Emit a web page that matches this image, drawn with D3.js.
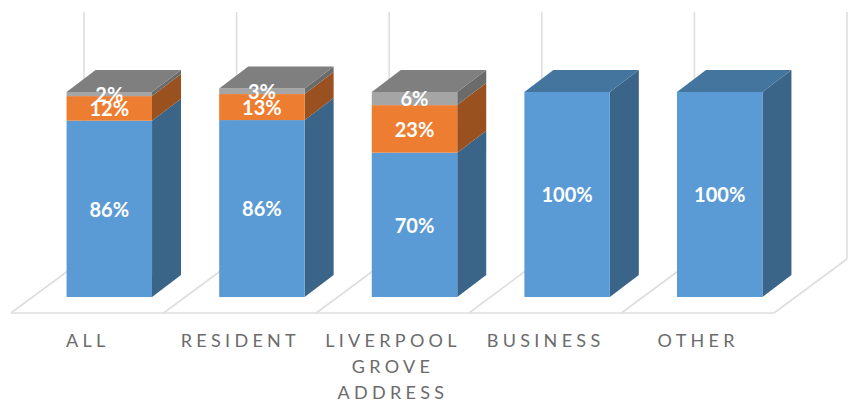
<!DOCTYPE html>
<html><head><meta charset="utf-8">
<script src="https://cdn.jsdelivr.net/npm/d3@7/dist/d3.min.js"></script>
<style>html,body{margin:0;padding:0;background:#fff}svg{display:block}</style>
</head><body><svg id="c" width="853" height="403"></svg>
<script>
const categories = ["ALL","RESIDENT","LIVERPOOL GROVE ADDRESS","BUSINESS","OTHER"];
const labelLines = [["ALL"],["RESIDENT"],["LIVERPOOL","GROVE","ADDRESS"],["BUSINESS"],["OTHER"]];
const blueValues = [86,86.3,70.4,100,100];
const orangeValues = [12,12.7,23.2,0,0];
const grayValues = [2,2.7,6.4,0,0];
const frontColors = ["#5B9BD5","#ED7D31","#A5A5A5"];
const sideColors = ["#3A6488","#98511F","#6B6B6B"];
const topColors = ["#44759F","#B25E25","#7F7F7F"];

const svg = d3.select("#c");
const x = d3.scaleBand().domain(categories).range([33,796]).paddingInner(0.44).paddingOuter(0.22);
const y = d3.scaleLinear().domain([0,100]).range([297,92]);
const step = x.step(), bw = x.bandwidth();
const dx = 29, dy = 22;          // bar depth
const floorX = 11, floorY = 313, fdx = 73, fdy = 54, gridTop = 12;
const grid = "#DEDEDE";

const table = categories.map((c,i)=>{
  const vals=[blueValues[i],orangeValues[i],grayValues[i]];
  let acc=0;
  return {c,i,segs:vals.map((v,k)=>{const s={k,v,y0:acc,y1:acc+v};acc+=v;return s;}).filter(s=>s.v>0)};
});
const idx = d3.range(categories.length+1);

// walls / floor
const g = svg.append("g").attr("fill","none").attr("stroke",grid).attr("stroke-width",1.6);
g.selectAll("line.v").data(idx).join("line").attr("class","v")
  .attr("x1",i=>floorX+fdx+i*step).attr("x2",i=>floorX+fdx+i*step)
  .attr("y1",gridTop).attr("y2",floorY-fdy);
g.selectAll("line.d").data(idx).join("line").attr("class","d")
  .attr("x1",i=>floorX+i*step).attr("x2",i=>floorX+fdx+i*step)
  .attr("y1",floorY).attr("y2",floorY-fdy);
g.append("line").attr("x1",floorX).attr("x2",floorX+categories.length*step).attr("y1",floorY).attr("y2",floorY);

const poly = pts => "M"+pts.map(p=>p.join(",")).join("L")+"Z";
const bars = svg.selectAll("g.bar").data(table).join("g").attr("class","bar");
bars.each(function(d){
  const b=d3.select(this), x0=x(d.c), x1=x0+bw;
  d.segs.forEach(s=>{
    const yb=y(s.y0), yt=y(s.y1);
    b.append("path").attr("fill",sideColors[s.k])
      .attr("d",poly([[x1,yb],[x1+dx,yb-dy],[x1+dx,yt-dy],[x1,yt]]));
    b.append("rect").attr("x",x0).attr("y",yt).attr("width",bw).attr("height",yb-yt).attr("fill",frontColors[s.k]);
  });
  const t=d.segs[d.segs.length-1], yt=y(t.y1);
  b.append("path").attr("fill",topColors[t.k])
    .attr("d",poly([[x0,yt],[x0+dx,yt-dy],[x1+dx,yt-dy],[x1,yt]]));
  d.segs.forEach(s=>{
    b.append("text").attr("x",x0+bw/2).attr("y",(y(s.y0)+y(s.y1))/2+0.5).attr("dy","0.36em")
      .attr("text-anchor","middle").attr("fill","#fff")
      .attr("font-family","Lato, 'Open Sans', sans-serif").attr("font-weight",700).attr("font-size",20)
      .text(Math.round(s.v)+"%");
  });
});

// category labels
const lab = svg.selectAll("text.cat").data(table).join("text").attr("class","cat")
  .attr("text-anchor","middle").attr("fill","#6B6B6B")
  .attr("font-family","Lato, 'Open Sans', sans-serif").attr("font-size",18).attr("letter-spacing",4.3);
lab.each(function(d){
  d3.select(this).selectAll("tspan").data(labelLines[d.i]).join("tspan")
    .attr("x",x(d.c)+bw/2-21.5).attr("y",(l,j)=>346.5+j*26.3).text(l=>l);
});
</script></body></html>
